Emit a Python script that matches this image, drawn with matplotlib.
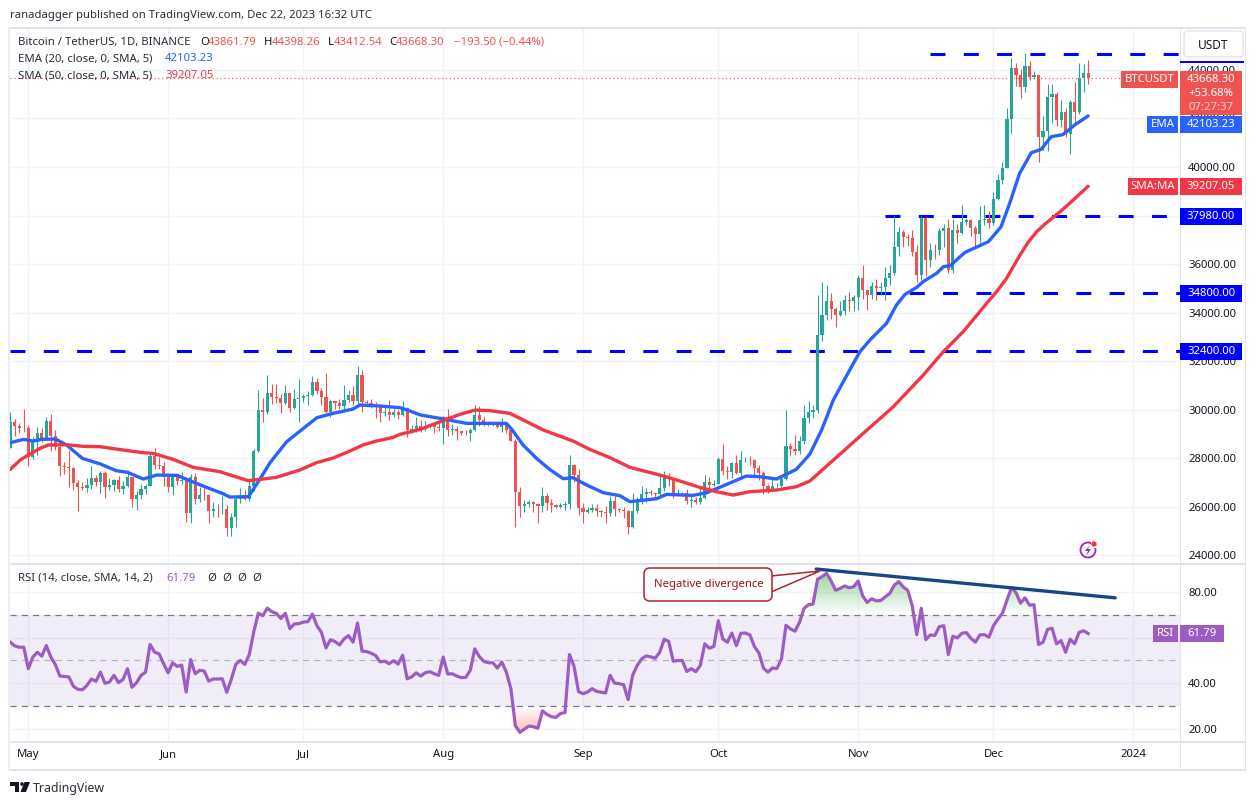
import numpy as np
import pandas as pd
import matplotlib
matplotlib.use("Agg")
import matplotlib.pyplot as plt
import matplotlib.dates as mdates
from matplotlib.patches import Rectangle, FancyBboxPatch, Polygon, Circle
from matplotlib.path import Path
from matplotlib.colors import to_rgb
from matplotlib.transforms import Affine2D

FIRST_OPEN = 28426
closes = [
    29480, 29340, 29250, 29230, 28070, 28670, 29030, 28850, 29535, 28905, 28450, 27665, 27630, 27600, 26975, 26805,
    26790, 26920, 27170, 27035, 27400, 26830, 26890, 27100, 26750, 26850, 27225, 26330, 26475, 26720, 26870, 28080,
    27745, 27700, 27220, 26820, 27250, 27070, 27115, 25730, 27230, 26340, 26500, 26480, 25840, 25920, 25900, 25900,
    25125, 25580, 26330, 26510, 26335, 26840, 28310, 30000, 29890, 30690, 30530, 30470, 30270, 30690, 30080, 30445,
    30470, 30585, 30620, 31155, 30770, 30510, 29895, 30345, 30290, 30170, 30415, 30620, 30380, 31450, 30310, 30290,
    30230, 30145, 29855, 29910, 29800, 29905, 29790, 30080, 29175, 29225, 29350, 29210, 29315, 29355, 29275, 29230,
    29705, 29185, 29190, 29110, 29050, 29040, 29180, 29770, 29565, 29425, 29400, 29420, 29280, 29410, 29170, 28700,
    26620, 26050, 26100, 26190, 26125, 26050, 26430, 26160, 26060, 26010, 26090, 26105, 27730, 27300, 25940, 25800,
    25870, 25970, 25815, 25780, 25750, 26240, 25900, 25890, 25830, 25160, 25840, 26220, 26530, 26600, 26570, 26530,
    26760, 27210, 27130, 26570, 26580, 26580, 26250, 26300, 26210, 26350, 27030, 26900, 26960, 27990, 27490, 27425,
    27790, 27410, 27930, 27950, 27920, 27590, 27390, 26875, 26755, 26860, 26860, 27160, 28500, 28395, 28320, 28715,
    29675, 29910, 29990, 33070, 33900, 34500, 34150, 33890, 34080, 34520, 34480, 34640, 35420, 34940, 34730, 35080,
    35010, 35045, 35420, 35620, 36690, 37310, 37130, 37060, 36490, 35550, 37880, 36150, 36590, 36585, 37380, 37470,
    35755, 37410, 37290, 37720, 37795, 37480, 37240, 37830, 37850, 37710, 38690, 39460, 39970, 41980, 44080, 43770,
    43290, 44170, 43715, 43790, 41240, 41480, 42890, 43020, 41940, 42260, 41370, 42660, 42270, 43660, 43861.79, 43668.30,
]
highs = [
    29890, 29620, 29470, 30040, 29370, 28890, 29290, 29250, 29710, 29815, 29170, 28630, 27830, 28340, 27630, 27100,
    27040, 27200, 27670, 27300, 27490, 27480, 27180, 27160, 27280, 27050, 27500, 27220, 26660, 26930, 26940, 28260,
    28440, 28050, 27830, 27350, 27300, 27350, 27450, 27150, 27350, 27400, 26800, 26780, 26530, 26200, 26100, 26440,
    26080, 25750, 26480, 26780, 26700, 27050, 28400, 30800, 30500, 31430, 31050, 31050, 30650, 31000, 30700, 30840,
    31280, 30660, 30790, 31380, 31320, 30880, 31500, 30440, 30380, 30450, 31040, 30800, 30980, 31820, 31640, 30390,
    30450, 30340, 30240, 30190, 30420, 30050, 29990, 30350, 30100, 29380, 29690, 29580, 29530, 29410, 29450, 29530,
    29740, 30050, 29430, 29320, 29110, 29170, 29250, 30200, 30140, 29700, 29540, 29470, 29450, 29650, 29480, 29230,
    28780, 26830, 26300, 26300, 26260, 26140, 26800, 26560, 26320, 26110, 26180, 26250, 28140, 27760, 27580, 26140,
    25980, 26120, 26100, 25860, 26020, 26440, 26430, 25940, 25980, 25880, 26560, 26400, 26860, 26780, 26680, 26620,
    27410, 27490, 27380, 27160, 26740, 26630, 26740, 26430, 26390, 26830, 27310, 27220, 27090, 28060, 28580, 27670,
    27840, 28130, 28290, 28040, 28110, 27980, 27740, 27480, 26950, 27130, 26980, 27290, 30000, 28620, 28980, 28900,
    30210, 30350, 30200, 34740, 35280, 35130, 34820, 34240, 34480, 34740, 34850, 34720, 35570, 35980, 34940, 35270,
    35380, 35280, 35890, 35980, 37970, 37530, 37400, 37220, 37420, 36770, 37980, 37930, 36860, 36840, 37500, 37650,
    37850, 37850, 37650, 38420, 37890, 37840, 37580, 38380, 38450, 38170, 38970, 39700, 40220, 42420, 44490, 44300,
    44050, 44700, 44370, 43950, 43800, 42100, 43430, 43420, 43090, 42760, 42430, 42770, 43500, 44290, 44230, 44398.26,
]
lows = [
    28425, 28920, 29060, 29100, 27690, 27990, 28140, 28670, 28800, 28320, 28340, 27270, 27360, 26830, 26700, 25840,
    26700, 26600, 26730, 26870, 26560, 26360, 26680, 26660, 26600, 26520, 26820, 26000, 25870, 26330, 26540, 26850,
    27560, 27550, 26850, 26600, 26500, 26920, 26950, 25390, 25350, 26120, 26200, 26270, 25350, 25600, 25600, 25700,
    24800, 24790, 25170, 26180, 26280, 26260, 26660, 28270, 29500, 29810, 30250, 30260, 29880, 30220, 29900, 30050,
    29500, 30320, 30200, 30560, 30630, 30200, 29850, 29700, 30040, 30050, 29950, 30300, 30200, 30250, 29900, 30250,
    30070, 29660, 29500, 29760, 29570, 29720, 29640, 29730, 28860, 29060, 29100, 29070, 29130, 29260, 29030, 29110,
    28590, 28920, 28960, 28740, 28960, 28970, 28700, 29110, 29350, 29320, 29320, 29350, 29250, 29100, 29050, 28700,
    25170, 25600, 25800, 26000, 25810, 25350, 25790, 25860, 25780, 25970, 25970, 25860, 25920, 27020, 25660, 25330,
    25730, 25810, 25640, 25570, 25350, 25610, 25640, 25800, 25550, 24900, 25130, 25760, 26130, 26220, 26470, 26400,
    26380, 26670, 26850, 26360, 26470, 26500, 26130, 26000, 26100, 26100, 26320, 26670, 26880, 26950, 27330, 27160,
    27200, 27340, 27170, 27850, 27720, 27260, 27110, 26540, 26560, 26700, 26810, 26810, 27110, 28100, 28120, 28170,
    28600, 29470, 29670, 29880, 32830, 33690, 33720, 33400, 33850, 33920, 34050, 34080, 34100, 34560, 34100, 34580,
    34520, 34720, 34520, 35130, 35540, 36340, 36700, 36760, 36330, 35280, 35360, 35500, 35870, 36200, 36390, 36720,
    35630, 35650, 36870, 37250, 37600, 37150, 36750, 36870, 37600, 37490, 37620, 38650, 39280, 39970, 41410, 43350,
    42820, 43080, 43580, 43630, 40220, 40680, 40650, 41800, 41670, 41630, 41250, 40530, 41810, 42200, 43090, 43412.54,
]
rsi = [
    58.0, 56.4, 55.8, 55.8, 46.4, 51.5, 53.6, 51.9, 56.5, 51.5, 48.2, 43.2, 43.0, 42.8, 38.7, 37.4,
    37.2, 39.1, 41.9, 40.9, 44.9, 40.0, 40.6, 43.5, 40.3, 41.7, 46.4, 38.3, 40.3, 43.5, 44.9, 57.0,
    53.6, 52.9, 48.6, 44.6, 49.0, 47.4, 48.0, 36.2, 50.4, 44.2, 45.7, 45.4, 41.0, 41.9, 41.9, 42.0,
    36.1, 41.7, 48.3, 50.0, 48.3, 52.6, 62.6, 70.7, 69.6, 72.9, 71.3, 70.6, 68.4, 70.6, 63.9, 66.0,
    66.1, 66.8, 67.0, 70.3, 65.2, 62.3, 55.5, 59.1, 58.3, 56.8, 59.4, 60.9, 58.0, 66.4, 54.1, 53.9,
    53.2, 52.2, 49.4, 49.7, 48.6, 49.9, 48.4, 52.3, 42.0, 42.8, 44.6, 43.2, 44.6, 45.1, 44.2, 43.5,
    51.5, 44.1, 44.2, 43.2, 42.5, 42.6, 45.7, 55.1, 51.7, 49.6, 49.0, 49.0, 46.7, 49.3, 44.9, 37.7,
    21.4, 18.6, 20.0, 21.3, 21.0, 20.4, 28.0, 26.4, 25.4, 25.1, 26.8, 27.2, 52.6, 47.5, 36.4, 35.5,
    36.2, 37.7, 36.5, 36.1, 35.8, 43.5, 40.1, 39.9, 39.4, 32.9, 43.5, 47.8, 50.7, 52.0, 51.6, 51.0,
    53.6, 59.3, 58.3, 49.7, 50.0, 50.0, 45.2, 46.4, 45.1, 47.8, 57.3, 55.4, 56.1, 67.4, 59.4, 58.0,
    62.0, 56.5, 61.9, 62.0, 61.2, 56.1, 53.3, 46.7, 44.9, 46.7, 46.5, 50.7, 65.4, 63.8, 62.8, 66.7,
    72.8, 74.4, 74.7, 85.5, 86.7, 88.1, 84.8, 80.7, 81.5, 82.6, 81.8, 82.2, 84.8, 78.3, 75.4, 77.0,
    76.1, 76.2, 77.8, 79.3, 82.9, 84.5, 82.2, 80.7, 73.9, 61.3, 72.8, 59.1, 61.2, 60.9, 64.8, 65.2,
    52.6, 60.6, 59.9, 61.9, 62.2, 59.7, 58.0, 61.2, 61.3, 60.2, 65.2, 68.1, 70.7, 76.4, 81.9, 79.7,
    75.1, 77.4, 74.2, 74.4, 57.0, 58.0, 63.6, 64.1, 57.3, 58.7, 53.6, 59.3, 57.3, 62.3, 63.0, 61.79,
]

# moving averages, day = days after May 1
ema_days = [-4, -1, 1, 3, 6, 8.5, 12, 16, 19.5, 22, 25.5, 28.5, 33, 36, 39.5, 43, 44.7, 48.8, 51, 53.6, 57.3, 61, 64,
            67.6, 72, 73.5, 78, 82.4, 84, 87, 91.3, 97.2, 106, 107.2, 109.7, 112.7, 115.6, 118.6, 120.8, 123.8, 127.5,
            131.2, 133.4, 139.3, 141.5, 147.4, 150.4, 153.3, 159.2, 162.2, 165.9, 170.3, 173.3, 175.9, 178.5, 180.7,
            184.4, 186.6, 190.3, 192.5, 194.4, 197, 198.4, 201.4, 202.9, 204.4, 207.7, 212.9, 215.7, 217.6, 219.8,
            222.4, 224.6, 226.8, 229.4, 232, 235]
ema_vals = [28644, 28781, 28712, 28781, 28795, 28548, 27998, 27765, 27490, 27422, 27147, 27312, 27298, 27065, 26804,
            26557, 26406, 26419, 27037, 27820, 28685, 29234, 29674, 29852, 30030, 30195, 30154, 30085, 29990, 29783,
            29646, 29440, 29440, 29193, 28548, 27998, 27545, 27161, 27202, 26900, 26584, 26461, 26214, 26337, 26516,
            26474, 26584, 26804, 27271, 27243, 27147, 27545, 28177, 29166, 30401, 31156, 32392, 32872, 33559, 34314,
            34753, 35042, 35275, 35618, 35893, 35934, 36483, 36923, 37540, 38501, 39737, 40588, 40726, 41247, 41330,
            41728, 42103.23]
sma_days = [-4, -1.8, 0, 2.6, 4.4, 8.5, 12.2, 15.9, 21, 25.5, 27.7, 32.1, 36.6, 42.5, 45.5, 48.8, 51.4, 55, 60.2, 63.9,
            67.6, 71.3, 74.2, 77.2, 80.9, 82.4, 86.9, 91.3, 95.7, 99.1, 102.4, 106.8, 114.2, 120.8, 124.5, 129, 133.4,
            140, 144.5, 148.9, 152.6, 156.3, 160, 165.9, 170.3, 173.3, 177.8, 182.2, 186.6, 188.5, 191.8, 198.4, 202.9,
            207.3, 212.5, 214.7, 216.9, 219.9, 221.7, 223.6, 225.5, 228.8, 231.7, 235]
sma_vals = [27545, 27930, 28136, 28410, 28548, 28561, 28493, 28479, 28342, 28232, 28204, 27957, 27628, 27449, 27271,
            27078, 27133, 27216, 27518, 27820, 28012, 28301, 28548, 28712, 28863, 28987, 29193, 29509, 29811, 29990,
            29962, 29852, 29166, 28712, 28369, 28026, 27628, 27312, 27065, 26804, 26625, 26488, 26625, 26694, 26831,
            27066, 27810, 28540, 29270, 29580, 30126, 31420, 32392, 33216, 34383, 34863, 35412, 36374, 36900, 37335,
            37660, 38158, 38639, 39207.05]

price_ticks = [24000, 26000, 28000, 30000, 32000, 34000, 36000, 38000, 40000, 42000, 44000]
rsi_ticks = [20, 40, 60, 80]
rsi_tick_labels = ["20.00", "40.00", "", "80.00"]
month_labels = ["May", "Jun", "Jul", "Aug", "Sep", "Oct", "Nov", "Dec", "2024"]
month_starts = ["2023-05-01", "2023-06-01", "2023-07-01", "2023-08-01", "2023-09-01", "2023-10-01", "2023-11-01",
                "2023-12-01", "2024-01-01"]
levels = [(44650, "2023-11-17"), (37980, "2023-11-07"), (34800, "2023-11-05"), (32400, "2023-04-27")]

UP = "#26a69a"
DOWN = "#ef5350"
EMA_C = "#2962ff"
SMA_C = "#f23645"
RSI_C = "#9c5cc2"
LEVEL_C = "#0000ff"
GRID = "#f0f3fa"
EDGE = "#e0e3eb"
TEXT = "#131722"
FONT = ["Noto Sans", "DejaVu Sans"]
FS = 8.15

plt.rcParams["font.family"] = FONT
plt.rcParams["font.size"] = FS

W, H = 1258, 805
fig = plt.figure(figsize=(W / 100, H / 100), dpi=100)
tp = Affine2D().scale(1, -1).translate(0, H)  # top-left pixel coords for decoration


def panel(x0, y0, x1, y1):
    return fig.add_axes([x0 / W, 1 - y1 / H, (x1 - x0) / W, (y1 - y0) / H])


def label(x, y, s, color=TEXT, size=FS, ha="left", **kw):
    fig.text(x, y, s, color=color, size=size, ha=ha, va="center", transform=tp, **kw)


def box(x0, y0, x1, y1, color):
    fig.add_artist(Rectangle((x0, y0), x1 - x0, y1 - y0, color=color, lw=0, transform=tp))


def y_px(ax, val):
    return H - ax.transData.transform((0, val))[1]


dates = pd.date_range("2023-04-27", periods=len(closes))
x = mdates.date2num(dates)
day0 = mdates.date2num(pd.Timestamp("2023-05-01"))
opens = np.array([FIRST_OPEN] + closes[:-1])
closes = np.array(closes)
highs = np.array(highs)
lows = np.array(lows)
rsi = np.array(rsi)
colors = [UP if c >= o else DOWN for o, c in zip(opens, closes)]
xlim = (day0 + (10 - 28.3) / 4.51, day0 + (1180 - 28.3) / 4.51)
month_x = mdates.date2num(pd.to_datetime(month_starts))

ax = panel(10, 28, 1180, 563)
ax_rsi = panel(10, 564, 1180, 742)

# price panel
ax.set_xlim(xlim)
ax.set_ylim(23689, 45723)
ax.set_xticks(month_x)
ax.tick_params(axis="x", length=0, labelbottom=False)
ax.yaxis.tick_right()
ax.set_yticks(price_ticks)
ax.set_yticklabels(["%.2f" % t for t in price_ticks], color=TEXT, size=FS)
ax.tick_params(axis="y", length=0, pad=5.8)
ax.grid(color=GRID, lw=1)
ax.set_axisbelow(True)
for s in ax.spines.values():
    s.set_visible(False)

for level, start in levels:
    x_start = mdates.date2num(pd.Timestamp(start))
    ax.plot([max(x_start, xlim[0]), xlim[1]], [level, level], color=LEVEL_C, lw=2.2, ls=(0, (4.9, 6.0)),
            dash_capstyle="butt", zorder=2)

ax.vlines(x, lows, highs, color=colors, lw=0.8, zorder=3)
ax.bar(x, np.abs(closes - opens), bottom=np.minimum(opens, closes), width=0.7, color=colors, lw=0, zorder=4)
ax.plot(day0 + np.array(ema_days), ema_vals, color=EMA_C, lw=2.4, zorder=5, solid_capstyle="round",
        solid_joinstyle="round")
ax.plot(day0 + np.array(sma_days), sma_vals, color=SMA_C, lw=2.4, zorder=6, solid_capstyle="round",
        solid_joinstyle="round")
ax.axhline(closes[-1], color=DOWN, lw=0.8, ls=(0, (1, 2.5)), zorder=7)

# rsi panel
ax_rsi.set_xlim(xlim)
ax_rsi.set_ylim(14.35, 92.2)
ax_rsi.set_xticks(month_x)
ax_rsi.set_xticklabels(month_labels, color=TEXT, size=FS)
ax_rsi.tick_params(axis="x", length=0, pad=5)
ax_rsi.yaxis.tick_right()
ax_rsi.set_yticks(rsi_ticks)
ax_rsi.set_yticklabels(rsi_tick_labels, color=TEXT, size=FS)
ax_rsi.tick_params(axis="y", length=0, pad=5.8)
ax_rsi.grid(color=GRID, lw=1)
ax_rsi.set_axisbelow(True)
for s in ax_rsi.spines.values():
    s.set_visible(False)

ax_rsi.axhspan(30, 70, color="#7e57c2", alpha=0.11, lw=0, zorder=1)
for lvl, col in [(70, "#787b86"), (50, "#b4b6bd"), (30, "#787b86")]:
    ax_rsi.axhline(lvl, color=col, lw=0.9, ls=(0, (5, 4)), zorder=2)


def gradient_fill(mask_low, top, bottom, color, alpha_top, alpha_bottom):
    # fill between the line and the band edge, fading towards the band
    if mask_low:
        coll = ax_rsi.fill_between(x, rsi, 30, where=rsi < 30, interpolate=True, lw=0, alpha=0)
    else:
        coll = ax_rsi.fill_between(x, rsi, 70, where=rsi > 70, interpolate=True, lw=0, alpha=0)
    path = Path.make_compound_path(*coll.get_paths())
    img = np.zeros((64, 2, 4))
    img[..., :3] = to_rgb(color)
    img[..., 3] = np.linspace(alpha_top, alpha_bottom, 64)[:, None]
    im = ax_rsi.imshow(img, extent=[x[0], x[-1], bottom, top], aspect="auto", zorder=3, origin="upper")
    im.set_clip_path(path, transform=ax_rsi.transData)


gradient_fill(False, 88.5, 70, "#4caf50", 0.55, 0.0)
gradient_fill(True, 30, 18, "#ff5252", 0.0, 0.42)
ax_rsi.set_xlim(xlim)
ax_rsi.set_ylim(14.35, 92.2)

ax_rsi.plot(x, rsi, color=RSI_C, lw=2.3, zorder=4)
trend_x = [day0 + 174.7, day0 + 241]
ax_rsi.plot(trend_x, [90, 77.4], color="#1c4587", lw=2.4, zorder=5, solid_capstyle="round")

# frame
for seg in [(8, 27, 1246, 29), (8, 563, 1246, 565), (8, 741, 1246, 743), (8, 769, 1246, 771)]:
    box(*seg, EDGE)
box(8, 27, 10, 771, "#eceef4")
box(1180, 27, 1181, 771, EDGE)
box(1245, 27, 1246, 771, EDGE)

# right hand tags
box(1180, 61, 1244, 63, LEVEL_C)
fig.add_artist(FancyBboxPatch((1186, 33), 55, 22, boxstyle="round,pad=2,rounding_size=4", fc="white", ec=EDGE, lw=1,
                              transform=tp))
label(1213, 45, "USDT", ha="center", size=FS + 0.4)


def tag(val, axis, text, color, left=None, left_text=None, x_end=1242, shift=0):
    # shift: the chart pushes a tag off its value when it would collide with the tag above
    yc = y_px(axis, val) + shift
    box(1180, yc - 8.5, x_end, yc + 8.5, color)
    label(1211 if x_end == 1242 else (1180 + x_end) / 2, yc, text, color="white", ha="center")
    if left is not None:
        box(left, yc - 8.5, 1178, yc + 8.5, color)
        label((left + 1178) / 2, yc, left_text, color="white", ha="center")


box(1180, 71, 1242, 115, DOWN)
box(1121, 71, 1178, 88, DOWN)
label(1149.5, 79.5, "BTCUSDT", color="white", ha="center")
label(1211, 79.5, "43668.30", color="white", ha="center")
label(1211, 93, "+53.68%", color="white", ha="center")
label(1211, 107, "07:27:37", color="#fbd0cf", ha="center")
tag(ema_vals[-1], ax, "42103.23", EMA_C, 1147, "EMA", shift=8.5)
tag(sma_vals[-1], ax, "39207.05", SMA_C, 1128, "SMA:MA")
tag(37980, ax, "37980.00", LEVEL_C)
tag(34800, ax, "34800.00", LEVEL_C)
tag(32400, ax, "32400.00", LEVEL_C)
tag(rsi[-1], ax_rsi, "61.79", RSI_C, 1153, "RSI", x_end=1224)

# header and legends
label(10, 15, "ranadagger published on TradingView.com, Dec 22, 2023 16:32 UTC", color="#2a2e39")
label(18, 42, "Bitcoin / TetherUS, 1D, BINANCE", color="#2a2e39")
for px, s, c in [(200, "O", TEXT), (208, "43861.79", DOWN), (264, "H", TEXT), (272, "44398.26", DOWN),
                 (328, "L", TEXT), (334, "43412.54", DOWN), (389, "C", TEXT), (396, "43668.30", DOWN),
                 (454, "\u2212193.50 (\u22120.44%)", DOWN)]:
    label(px, 42, s, color=c)
label(18, 58.5, "EMA (20, close, 0, SMA, 5)", color="#2a2e39")
label(165, 58.5, "42103.23", color=EMA_C)
label(18, 75.5, "SMA (50, close, 0, SMA, 5)", color="#2a2e39")
label(165, 75.5, "39207.05", color=SMA_C)
label(18, 578, "RSI (14, close, SMA, 14, 2)", color="#2a2e39")
label(166, 578, "61.79", color=RSI_C)
for px in [207, 222, 237, 252]:
    label(px, 578, "\u00d8", color="#2a2e39")

# callout
tail = Polygon([(771, 576), (820, 571), (771, 592)], closed=True, fc="white", ec="#b2222c", lw=1.1, transform=tp, zorder=2)
fig.add_artist(tail)
fig.add_artist(FancyBboxPatch((649, 573), 118, 23, boxstyle="round,pad=5,rounding_size=6", fc="white", ec="#b2222c",
                              lw=1.1, transform=tp, zorder=2))
box(764, 577, 774, 591, "white")
label(654, 584, "Negative divergence", color="#a60d0d", zorder=4)

# lightning icon
fig.add_artist(Circle((1088, 550), 7.5, fc="none", ec="#9c27b0", lw=1.3, transform=tp))
fig.add_artist(Polygon([(1090, 545), (1085, 551), (1088, 551), (1086, 556), (1091, 549), (1088, 549)], closed=True,
                       fc="#9c27b0", lw=0, transform=tp))
box(1091, 541, 1098, 548, "white")
fig.add_artist(Circle((1094, 544), 2.7, fc="#f23645", lw=0, transform=tp))

# footer logo
box(10, 782, 19, 785.5, "#131722")
box(14.5, 785.5, 19, 792, "#131722")
fig.add_artist(Circle((22, 784), 1.8, fc="#131722", lw=0, transform=tp))
fig.add_artist(Polygon([(24.5, 782), (30, 782), (26, 792), (20.5, 792)], closed=True, fc="#131722", lw=0, transform=tp))
label(33, 788, "TradingView", color="#2a2e39", size=8.9)

fig.savefig("out.png", dpi=100)
